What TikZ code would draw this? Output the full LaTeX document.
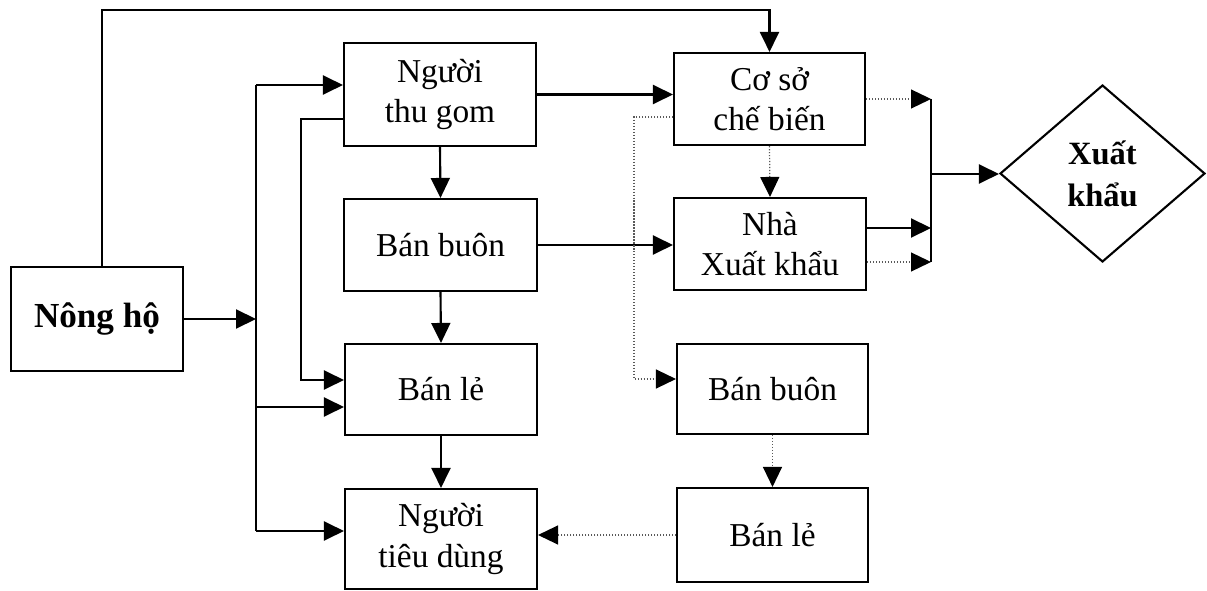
\documentclass[tikz,border=0pt]{standalone}
\usepackage{fontspec}
\setmainfont{Liberation Serif}
\usetikzlibrary{arrows.meta, shapes.geometric}

\begin{document}
\begin{tikzpicture}[x=0.02cm, y=-0.02cm,
  box/.style={draw, line width=1.2pt, inner sep=0pt, align=center, font=\fontsize{19}{23}\selectfont},
  arr/.style={line width=1.2pt, -{Triangle[length=0.4cm, width=0.38cm]}},
  dotarr/.style={black!65, line width=0.7pt, densely dotted, -{Triangle[length=0.4cm, width=0.38cm, color=black]}}]
\useasboundingbox (0,0) rectangle (1207,591);
\node[box, minimum width=3.44cm, minimum height=2.08cm, font=\fontsize{20}{23}\selectfont\bfseries] (nong) at (97,319) {Nông hộ};
\node[box, minimum width=3.84cm, minimum height=2.06cm] (thugom) at (440,94.5) {Người\\thu gom};
\node[box, minimum width=3.86cm, minimum height=1.84cm] (banbuon1) at (440.5,245) {Bán buôn};
\node[box, minimum width=3.84cm, minimum height=1.82cm] (banle1) at (441,389.5) {Bán lẻ};
\node[box, minimum width=3.84cm, minimum height=2.0cm] (tieudung) at (441,539) {Người\\tiêu dùng};
\node[box, minimum width=3.82cm, minimum height=1.84cm] (coso) at (769.5,99) {Cơ sở\\chế biến};
\node[box, minimum width=3.84cm, minimum height=1.84cm] (nhaxk) at (770,244) {Nhà\\Xuất khẩu};
\node[box, minimum width=3.82cm, minimum height=1.8cm] (banbuon2) at (772.5,389) {Bán buôn};
\node[box, minimum width=3.82cm, minimum height=1.88cm] (banle2) at (772.5,535) {Bán lẻ};
\node[box, diamond, minimum width=4.1cm, minimum height=3.54cm, font=\fontsize{18.5}{24}\selectfont\bfseries] (xk) at (1102.5,173.5) {Xuất\\khẩu};

\coordinate (top) at (400,10);
\draw[arr] ([xshift=0.1cm]nong.north) |- (top) -| (coso.north);

\coordinate (busM) at (256,319);
\coordinate (busT) at (256,85);
\coordinate (busL) at (256,407);
\coordinate (busB) at (256,531);
\draw[arr] (nong.east) -- (busM);
\draw[line width=1.2pt] (busT) -- (busB);
\draw[arr] (busT) -- (busT -| thugom.west);
\draw[arr] (busL) -- (busL -| banle1.west);
\draw[arr] (busB) -- (busB -| tieudung.west);
\coordinate (loopT) at (301,119);
\coordinate (loopB) at (301,380);
\draw[arr] (loopT -| thugom.west) -- (loopT) -- (loopB) -- (loopB -| banle1.west);

\draw[arr] (thugom.east) -- (thugom.east -| coso.west);
\draw[arr] (banbuon1.east) -- (banbuon1.east -| nhaxk.west);
\draw[arr] (thugom.south) -- (banbuon1.north);
\draw[arr] (banbuon1.south) -- (banle1.north);
\draw[arr] (banle1.south) -- (tieudung.north);

\draw[dotarr] (coso.south) -- (nhaxk.north);
\coordinate (sideT) at (634,117);
\coordinate (sideB) at (634,379);
\draw[dotarr] (sideT -| coso.west) -- (sideT) -- (sideB) -- (sideB -| banbuon2.west);
\draw[dotarr] (banbuon2.south) -- (banle2.north);
\draw[dotarr] (banle2.west) -- (banle2.west -| tieudung.east);

\coordinate (joinT) at (931,99);
\coordinate (joinM) at (931,228);
\coordinate (joinB) at (931,262);
\coordinate (joinX) at (931,174);
\draw[line width=1.2pt] (joinT) -- (joinB);
\draw[dotarr] (coso.east) -- (joinT);
\draw[arr] (joinM -| nhaxk.east) -- (joinM);
\draw[dotarr] (joinB -| nhaxk.east) -- (joinB);
\draw[arr] (joinX) -- (joinX -| xk.west);
\end{tikzpicture}
\end{document}
